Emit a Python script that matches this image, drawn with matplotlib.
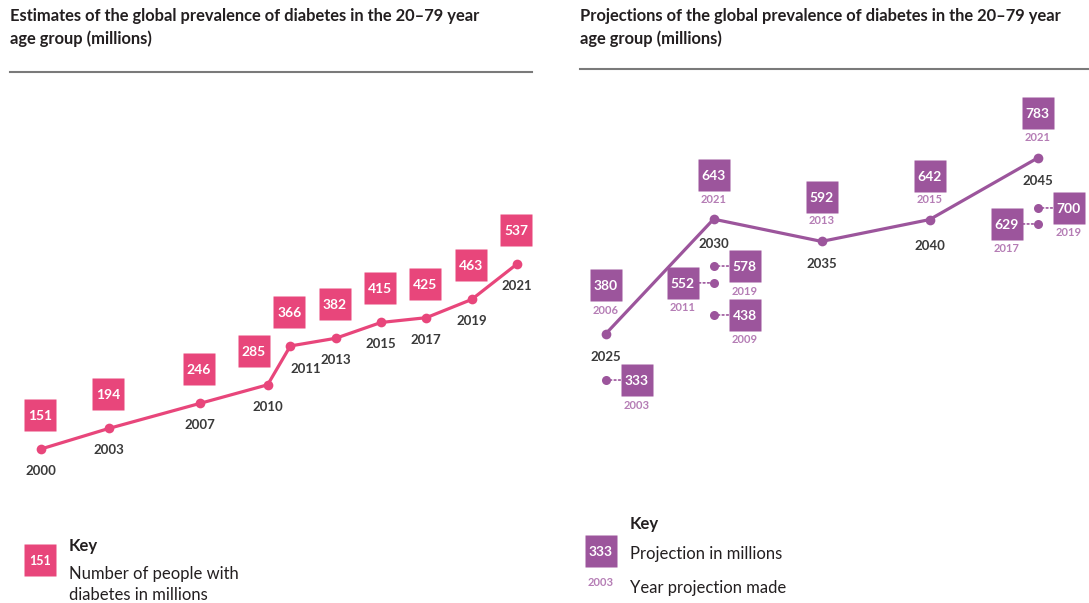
import matplotlib
matplotlib.use("Agg")
import matplotlib.pyplot as plt
from matplotlib.transforms import offset_copy
from matplotlib.lines import Line2D

# ---------------- data ----------------
est_years = [2000, 2003, 2007, 2010, 2011, 2013, 2015, 2017, 2019, 2021]
est_values = [151, 194, 246, 285, 366, 382, 415, 425, 463, 537]

proj_years = [2025, 2030, 2035, 2040, 2045]
proj_values = [380, 643, 592, 642, 783]
proj_made = [2006, 2021, 2013, 2015, 2021]

other_target = [2025, 2030, 2030, 2030, 2045, 2045]
other_values = [333, 552, 578, 438, 629, 700]
other_made = [2003, 2011, 2019, 2009, 2017, 2019]

title_left = "Estimates of the global prevalence of diabetes in the 20–79 year\nage group (millions)"
title_right = "Projections of the global prevalence of diabetes in the 20–79 year\nage group (millions)"

# ---------------- style / layout ----------------
PINK = "#E8467B"
PURPLE = "#9C559C"
LPURPLE = "#B57DB5"
TXT = "#231F20"
RULE = "#7A7A7A"
FONT = "Lato"
plt.rcParams["font.family"] = [FONT, "DejaVu Sans"]

W, H = 1089, 603
fig = plt.figure(figsize=(W / 100, H / 100), dpi=100)


def make_axes(l, r, t, b):
    ax = fig.add_axes([l / W, 1 - b / H, (r - l) / W, (b - t) / H])
    ax.set_axis_off()
    return ax


def calibrate(ax, box, xa, xb, ya, yb):
    # xa/xb, ya/yb: (data value, pixel) anchors
    l, r, t, b = box
    sx = (xb[0] - xa[0]) / (xb[1] - xa[1])
    ax.set_xlim(xa[0] + (l - xa[1]) * sx, xa[0] + (r - xa[1]) * sx)
    sy = (yb[0] - ya[0]) / (yb[1] - ya[1])
    ax.set_ylim(ya[0] + (b - ya[1]) * sy, ya[0] + (t - ya[1]) * sy)


def off(ax, dx, dy):
    return offset_copy(ax.transData, fig=fig, x=dx, y=dy, units="dots")


def value_box(ax, x, y, dx, dy, text, color, fs=10):
    tr = off(ax, dx, dy)
    ax.plot([x], [y], marker="s", ms=32 * 0.72, color=color, mec="none",
            transform=tr, clip_on=False, zorder=4)
    ax.text(x, y, text, transform=tr, ha="center", va="center_baseline",
            color="white", fontsize=fs, fontweight="bold", zorder=5)


# overlay axes in pixel coordinates for titles and keys
ov = fig.add_axes([0, 0, 1, 1])
ov.set_xlim(0, W)
ov.set_ylim(H, 0)
ov.set_axis_off()

ov.text(10, 8, title_left, ha="left", va="top", fontsize=11.9,
        fontweight="bold", color=TXT, linespacing=1.45)
ov.text(580, 8, title_right, ha="left", va="top", fontsize=11.9,
        fontweight="bold", color=TXT, linespacing=1.45)
ov.add_line(Line2D([10, 532], [72, 72], color=RULE, lw=1.5))
ov.add_line(Line2D([580, 1089], [69, 69], color=RULE, lw=1.5))

# ---------------- left panel ----------------
LBOX = (0, 545, 80, 505)
axL = make_axes(*LBOX)
calibrate(axL, LBOX, (2000, 41), (2021, 517), (151, 449), (537, 264))
axL.plot(est_years, est_values, color=PINK, lw=2.3, marker="o", ms=7,
         mec="none", zorder=3, clip_on=False)

lbl_off = {2011: (15, -22)}
box_off = {285: (-14, 34)}
for yr, v in zip(est_years, est_values):
    dx, dy = box_off.get(v, (-1, 34))
    value_box(axL, yr, v, dx, dy, str(v), PINK)
    lx, ly = lbl_off.get(yr, (0, -21))
    axL.text(yr, v, str(yr), transform=off(axL, lx, ly), ha="center",
             va="center_baseline", fontsize=9.5, fontweight="bold", color="#3A3A3A")

# left key
value_box(ov, 40, 560, 0, 0, "151", PINK, fs=9)
ov.text(69, 544, "Key", ha="left", va="center_baseline", fontsize=12,
        fontweight="bold", color=TXT)
ov.text(69, 573, "Number of people with", ha="left", va="center_baseline",
        fontsize=12, color=TXT)
ov.text(69, 594, "diabetes in millions", ha="left", va="center_baseline",
        fontsize=12, color=TXT)

# ---------------- right panel ----------------
RBOX = (560, 1089, 80, 505)
axR = make_axes(*RBOX)
calibrate(axR, RBOX, (2025, 605.6), (2045, 1037.6), (380, 334), (783, 158))
axR.plot(proj_years, proj_values, color=PURPLE, lw=2.3, marker="o", ms=7,
         mec="none", zorder=3, clip_on=False)

main_box_off = [(0, 49), (0, 44), (0, 44), (0, 44), (0, 45)]
main_made_dy = [25, 21, 22, 21, 21]
target_dy = [-22, -24, -22, -25, -22]
for yr, v, made, (bx, by), mdy, tdy in zip(proj_years, proj_values, proj_made,
                                          main_box_off, main_made_dy, target_dy):
    value_box(axR, yr, v, bx, by, str(v), PURPLE)
    axR.text(yr, v, str(made), transform=off(axR, bx, mdy), ha="center",
             va="center_baseline", fontsize=8, fontweight="bold", color=LPURPLE)
    axR.text(yr, v, str(yr), transform=off(axR, 0, tdy), ha="center",
             va="center_baseline", fontsize=9.5, fontweight="bold", color="#3A3A3A")

# earlier projections (side dots with dotted connectors)
side_dy = [-25.5, -24, -18.5, -6.3, 1.3, -13.7]
side_dir = [1, -1, 1, 1, -1, 1]
for yr, v, made, dy, sd in zip(other_target, other_values, other_made, side_dy, side_dir):
    tr = off(axR, 0, dy)
    axR.plot([yr], [v], marker="o", ms=6.5, color=PURPLE, mec="none",
             transform=tr, clip_on=False, zorder=3)
    trc = off(axR, sd * 15, dy)
    axR.annotate("", xy=(yr, v), xycoords=trc, xytext=(yr, v), textcoords=tr,
                 arrowprops=dict(arrowstyle="-", color=PURPLE, lw=1.2,
                                 linestyle=(0, (1, 1.6)), shrinkA=0, shrinkB=0))
    value_box(axR, yr, v, sd * 31, dy, str(v), PURPLE)
    axR.text(yr, v, str(made), transform=off(axR, sd * 31, dy - 24), ha="center",
             va="center_baseline", fontsize=8, fontweight="bold", color=LPURPLE)

# right key
value_box(ov, 601, 551, 0, 0, "333", PURPLE)
ov.text(601, 581, "2003", ha="center", va="center_baseline", fontsize=8,
        fontweight="bold", color=LPURPLE)
ov.text(630, 523, "Key", ha="left", va="center_baseline", fontsize=12,
        fontweight="bold", color=TXT)
ov.text(630, 552, "Projection in millions", ha="left", va="center_baseline",
        fontsize=12, color=TXT)
ov.text(630, 587, "Year projection made", ha="left", va="center_baseline",
        fontsize=12, color=TXT)

fig.savefig("out.png", dpi=100, facecolor="white")
